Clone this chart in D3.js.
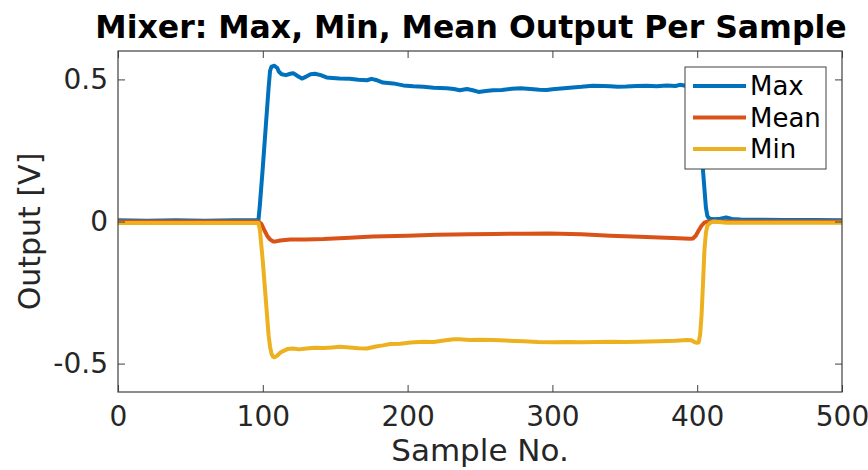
<!DOCTYPE html>
<html>
<head>
<meta charset="utf-8">
<script src="https://cdn.jsdelivr.net/npm/d3@7"></script>
<style>
  html, body { margin: 0; padding: 0; background: #fff; }
  svg { display: block; font-family: "DejaVu Sans", sans-serif; }
</style>
</head>
<body>
<svg id="chart" width="868" height="470"></svg>
<script>
// Mixer output statistics per sample
const maxSample = [0,20,40,60,80,96,97,98,100,102,104,105,106,108,110,111,113,116,119,121,124,127,130,133,136,140,144,148,153,160,166,172,175,179,183,190,197,204,211,218,227,232,236,241,245,249,254,259,265,272,278,285,291,296,300,306,312,320,328,335,340,345,351,358,365,372,379,385,388,392,396,400,402,404,406,407,408,409,412,416,420,424,430,445,460,480,500];
const maxValue  = [0.004,0.003,0.004,0.003,0.004,0.004,0.005,0.06,0.19,0.33,0.47,0.53,0.545,0.548,0.54,0.528,0.518,0.515,0.52,0.522,0.512,0.503,0.51,0.518,0.52,0.515,0.507,0.505,0.503,0.502,0.499,0.497,0.502,0.497,0.489,0.486,0.479,0.476,0.474,0.471,0.469,0.466,0.462,0.466,0.462,0.456,0.459,0.462,0.463,0.467,0.469,0.466,0.464,0.463,0.465,0.468,0.471,0.474,0.478,0.477,0.476,0.474,0.475,0.477,0.478,0.476,0.479,0.477,0.481,0.478,0.482,0.478,0.40,0.18,0.05,0.02,0.012,0.01,0.008,0.01,0.014,0.009,0.007,0.006,0.005,0.005,0.004];

const meanSample = [0,50,97,99,101,103,105,107,109,112,119,130,142,160,176,200,220,243,260,280,298,320,340,360,383,395,397,399,401,403,405,407,410,430,460,500];
const meanValue  = [0,0,0,-0.008,-0.03,-0.05,-0.063,-0.07,-0.07,-0.067,-0.063,-0.063,-0.062,-0.057,-0.053,-0.05,-0.047,-0.045,-0.044,-0.043,-0.042,-0.045,-0.05,-0.054,-0.058,-0.061,-0.06,-0.05,-0.032,-0.015,-0.004,0,0,0,0,0];

const minSample = [0,50,97,98,100,102,104,105,106,107,108,110,112,114,117,121,125,130,136,142,148,153,160,166,172,178,183,188,195,202,211,218,225,232,236,243,250,259,268,280,290,300,310,320,330,340,350,360,374,385,393,396,398,400,401,402,403,404,405,406,407,409,411,415,420,430,460,500];
const minValue  = [-0.005,-0.005,-0.005,-0.03,-0.14,-0.27,-0.40,-0.44,-0.465,-0.476,-0.478,-0.472,-0.462,-0.456,-0.449,-0.447,-0.45,-0.447,-0.444,-0.445,-0.443,-0.441,-0.443,-0.446,-0.447,-0.44,-0.436,-0.431,-0.43,-0.426,-0.423,-0.424,-0.419,-0.414,-0.414,-0.417,-0.416,-0.417,-0.419,-0.421,-0.424,-0.425,-0.424,-0.425,-0.424,-0.423,-0.424,-0.423,-0.421,-0.42,-0.417,-0.418,-0.424,-0.427,-0.425,-0.40,-0.33,-0.22,-0.10,-0.04,-0.015,-0.005,0.0,-0.002,-0.004,-0.004,-0.004,-0.004];

const xTicks = [0, 100, 200, 300, 400, 500];
const yTicks = [-0.5, 0, 0.5];
const yTickLabels = ["-0.5", "0", "0.5"];

const seriesNames  = ["Max", "Mean", "Min"];
const seriesColors = ["#0072BD", "#D95319", "#EDB120"];

const titleText = "Mixer: Max, Min, Mean Output Per Sample";
const xLabel = "Sample No.";
const yLabel = "Output [V]";

(function draw() {
  const series = [
    { name: seriesNames[0], color: seriesColors[0], pts: maxSample.map((s, i) => [s, maxValue[i]]) },
    { name: seriesNames[1], color: seriesColors[1], pts: meanSample.map((s, i) => [s, meanValue[i]]) },
    { name: seriesNames[2], color: seriesColors[2], pts: minSample.map((s, i) => [s, minValue[i]]) }
  ];

  const svg = d3.select("#chart");
  const box = { left: 118, right: 842, top: 51, bottom: 392 };
  const x = d3.scaleLinear().domain([0, 500]).range([box.left, box.right]);
  const y = d3.scaleLinear().domain([-0.6, 0.6]).range([box.bottom, box.top]);
  const axisColor = "#404040";
  const textColor = "#262626";
  const tickLen = 7;

  // data lines, clipped to the plot box
  svg.append("defs").append("clipPath").attr("id", "plotClip")
    .append("rect").attr("x", box.left).attr("y", box.top)
    .attr("width", box.right - box.left).attr("height", box.bottom - box.top);

  const line = d3.line().x(d => x(d[0])).y(d => y(d[1]));
  const plot = svg.append("g").attr("clip-path", "url(#plotClip)");
  series.forEach(s => {
    plot.append("path").datum(s.pts)
      .attr("d", line)
      .attr("fill", "none")
      .attr("stroke", s.color)
      .attr("stroke-width", 4)
      .attr("stroke-linejoin", "round")
      .attr("stroke-linecap", "round");
  });

  // axes: bottom and left carry labels, top and right mirror the ticks
  const axisBottom = d3.axisBottom(x).tickValues(xTicks).tickSizeInner(-tickLen).tickSizeOuter(0).tickPadding(14);
  const axisTop = d3.axisTop(x).tickValues(xTicks).tickSizeInner(-tickLen).tickSizeOuter(0).tickFormat("");
  const axisLeft = d3.axisLeft(y).tickValues(yTicks).tickSizeInner(-tickLen).tickSizeOuter(0).tickPadding(10)
    .tickFormat((d, i) => yTickLabels[i]);
  const axisRight = d3.axisRight(y).tickValues(yTicks).tickSizeInner(-tickLen).tickSizeOuter(0).tickFormat("");

  function styleAxis(g) {
    g.select(".domain").remove();
    g.selectAll(".tick line").attr("stroke", axisColor).attr("stroke-width", 1);
    g.selectAll(".tick text").attr("fill", textColor)
      .style("font-family", "'DejaVu Sans', sans-serif").style("font-size", "28px");
  }
  svg.append("g").attr("transform", `translate(0,${box.bottom})`).call(axisBottom).call(styleAxis);
  svg.append("g").attr("transform", `translate(0,${box.top})`).call(axisTop).call(styleAxis);
  svg.append("g").attr("transform", `translate(${box.left},0)`).call(axisLeft).call(styleAxis);
  svg.append("g").attr("transform", `translate(${box.right},0)`).call(axisRight).call(styleAxis);

  // plot box
  svg.append("rect")
    .attr("x", box.left).attr("y", box.top)
    .attr("width", box.right - box.left).attr("height", box.bottom - box.top)
    .attr("fill", "none").attr("stroke", axisColor).attr("stroke-width", 1.2);

  // title and axis labels
  svg.append("text")
    .attr("x", 471).attr("y", 38)
    .attr("text-anchor", "middle")
    .attr("fill", "#000")
    .style("font-weight", "bold").style("font-size", "31.5px")
    .text(titleText);

  svg.append("text")
    .attr("x", (box.left + box.right) / 2).attr("y", 461)
    .attr("text-anchor", "middle")
    .attr("fill", textColor)
    .style("font-size", "31px")
    .text(xLabel);

  svg.append("text")
    .attr("transform", `translate(40,${(box.top + box.bottom) / 2 + 10}) rotate(-90)`)
    .attr("text-anchor", "middle")
    .attr("fill", textColor)
    .style("font-size", "30px")
    .text(yLabel);

  // legend
  const lg = svg.append("g");
  lg.append("rect")
    .attr("x", 685).attr("y", 67).attr("width", 141).attr("height", 102)
    .attr("fill", "#fff").attr("stroke", axisColor).attr("stroke-width", 1);
  series.forEach((s, i) => {
    const cy = 86 + i * 31.5;
    lg.append("line")
      .attr("x1", 693).attr("x2", 746).attr("y1", cy).attr("y2", cy)
      .attr("stroke", s.color).attr("stroke-width", 4);
    lg.append("text")
      .attr("x", 750).attr("y", cy + 9)
      .attr("fill", "#000")
      .style("font-size", "26px")
      .text(s.name);
  });
})();
</script>
</body>
</html>
